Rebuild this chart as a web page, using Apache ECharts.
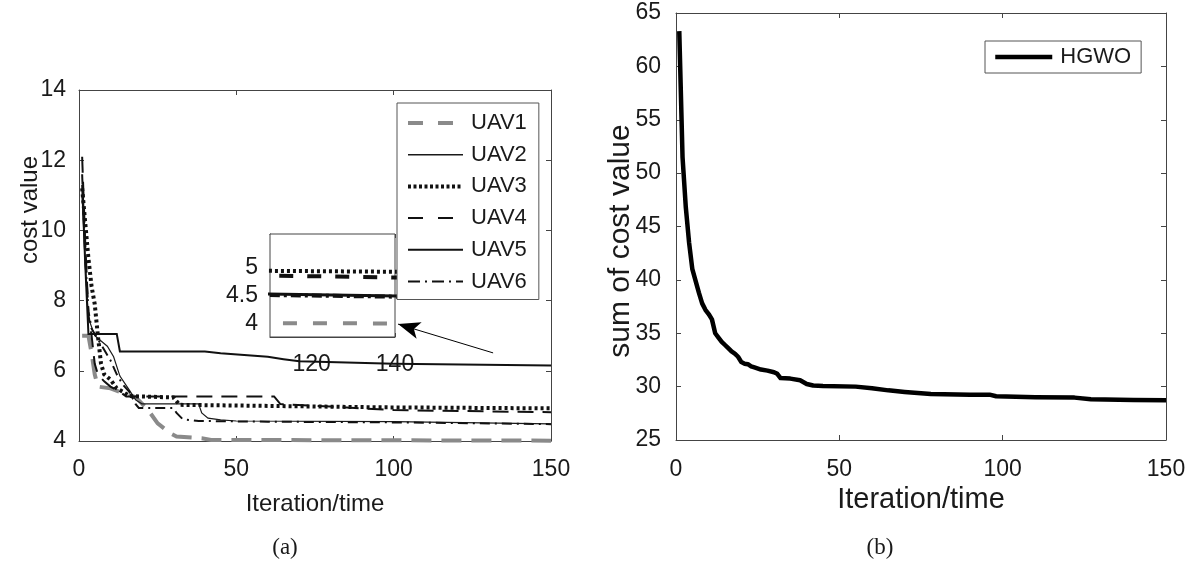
<!DOCTYPE html>
<html><head><meta charset="utf-8">
<script src="https://cdn.jsdelivr.net/npm/echarts@6/dist/echarts.min.js"></script>
<style>html,body{margin:0;padding:0;background:#fff}#c{width:1196px;height:568px}</style>
</head><body><div id="c"></div>
<script>
// ---------- data ----------
const uavNames = ['UAV1','UAV2','UAV3','UAV4','UAV5','UAV6'];
const uav1 = [[1,7.0],[3,7.0],[4,6.5],[5,5.9],[6,5.55],[10,5.5],[13,5.4],[18,5.25],[22,4.88],[25,4.5],[29,4.22],[31,4.13],[39,4.08],[42,4.03],[150,4.01]];
const uav2 = [[1,11.0],[2,9.0],[3,7.5],[5,7.0],[9,6.7],[11,6.4],[13,5.85],[16,5.45],[18,5.17],[20,5.06],[38,5.06],[39,4.8],[41,4.65],[45,4.6],[50,4.57],[100,4.55],[150,4.49]];
const uav3 = [[1,11.2],[2,10.2],[3,9.2],[4,8.4],[5,7.9],[6,7.0],[7,6.2],[8,5.9],[10,5.75],[12,5.5],[14,5.4],[16,5.28],[30,5.24],[32,5.03],[60,5.0],[95,4.96],[150,4.93]];
const uav4 = [[1,12.1],[2,9.6],[3,7.6],[4,7.0],[5,6.2],[6,5.9],[8,5.7],[10,5.55],[13,5.4],[15,5.27],[62,5.27],[64,5.05],[80,4.98],[100,4.88],[150,4.82]];
const uav5 = [[1,11.3],[2,9.0],[3,7.05],[12,7.05],[13,6.55],[40,6.55],[45,6.5],[60,6.4],[65,6.33],[70,6.27],[100,6.2],[150,6.15]];
const uav6 = [[1,11.6],[2,9.2],[3,7.7],[4,7.2],[6,6.9],[8,6.6],[10,6.3],[12,5.9],[14,5.6],[16,5.4],[18,5.05],[19,4.94],[30,4.94],[31,4.8],[33,4.62],[38,4.57],[60,4.55],[100,4.53],[150,4.48]];
const hgwo = [[1,63.3],[2,51.5],[3,46.8],[4,43.5],[5,41.0],[6,39.9],[7,38.8],[8,37.8],[9,37.2],[10,36.8],[11,36.3],[12,35.0],[13,34.6],[14,34.2],[15,33.9],[16,33.6],[17,33.3],[18,33.1],[19,32.8],[20,32.3],[21,32.15],[22,32.1],[23,31.9],[24,31.8],[26,31.6],[28,31.5],[30,31.35],[31,31.2],[32,30.8],[35,30.75],[38,30.6],[40,30.25],[42,30.1],[45,30.05],[55,30.0],[60,29.85],[65,29.65],[70,29.5],[78,29.3],[90,29.25],[96,29.25],[98,29.1],[110,29.0],[122,28.97],[127,28.82],[140,28.75],[150,28.72]];
const insetYTicks = [4, 4.5, 5];
const insetXLabels = [120, 140];
const arrowFrom = [131.6, 6.51];
const arrowTo = [101.4, 7.33];

// ---------- styles ----------
const F = '"Liberation Sans", Arial, sans-serif';
const AX = '#444';
const TXT = '#1a1a1a';
const styles = [
  {color:'#8a8a8a', width:4, type:[20,10]},
  {color:'#1a1a1a', width:1.2, type:'solid'},
  {color:'#111', width:4, type:[3,3]},
  {color:'#111', width:2, type:[16,9]},
  {color:'#111', width:2, type:'solid'},
  {color:'#111', width:2, type:[10,5,2,5]}
];
const legendStyles = [
  {color:'#8a8a8a', width:4, type:[15,15]},
  {color:'#1a1a1a', width:1.5, type:'solid'},
  {color:'#111', width:4, type:[3,2.5]},
  {color:'#111', width:2, type:[15,15]},
  {color:'#111', width:2, type:'solid'},
  {color:'#111', width:2, type:[12,5,2,5]}
];
const insetStyles = [
  {color:'#8a8a8a', width:4, type:[14,16]},
  {color:'#111', width:3, type:'solid'},
  {color:'#111', width:4, type:[3,3]},
  {color:'#111', width:4, type:[14,14]},
  {color:'#111', width:2, type:'solid'},
  {color:'#111', width:4, type:[10,4,3,4]}
];
const uavData = [uav1, uav2, uav3, uav4, uav5, uav6];

function xAx(grid, pos, min, max, interval, labels, extra) {
  return Object.assign({
    type:'value', gridIndex:grid, position:pos, min, max, interval,
    axisLine:{show:true, onZero:false, lineStyle:{color:AX, width:1}},
    axisTick:{show:true, inside:true, length:5, lineStyle:{color:AX}},
    axisLabel:{show:labels, color:TXT, fontFamily:F, fontSize:23, margin:17},
    splitLine:{show:false}
  }, extra || {});
}
function yAx(grid, pos, min, max, interval, labels, extra) {
  return Object.assign({
    type:'value', gridIndex:grid, position:pos, min, max, interval,
    axisLine:{show:true, onZero:false, lineStyle:{color:AX, width:1}},
    axisTick:{show:true, inside:true, length:5, lineStyle:{color:AX}},
    axisLabel:{show:labels, color:TXT, fontFamily:F, fontSize:23, margin:13},
    splitLine:{show:false}
  }, extra || {});
}

const xAxis = [
  xAx(0,'bottom',0,150,50,true,{name:'Iteration/time', nameLocation:'middle', nameGap:51, nameTextStyle:{fontFamily:F, fontSize:24, color:TXT}}),
  xAx(0,'top',0,150,50,false),
  xAx(1,'bottom',110,140,10,true,{axisLabel:{show:true, color:TXT, fontFamily:F, fontSize:23, margin:16, customValues:insetXLabels}, axisTick:{show:true, inside:true, length:4, lineStyle:{color:AX}}}),
  xAx(1,'top',110,140,10,false,{axisTick:{show:true, inside:true, length:4, lineStyle:{color:AX}}}),
  xAx(2,'bottom',0,150,50,true,{axisLabel:{show:true, color:TXT, fontFamily:F, fontSize:23, margin:18}, name:'Iteration/time', nameLocation:'middle', nameGap:45, nameTextStyle:{fontFamily:F, fontSize:29, color:TXT}}),
  xAx(2,'top',0,150,50,false)
];
const yAxis = [
  yAx(0,'left',4,14,2,true),
  yAx(0,'right',4,14,2,false),
  {type:'value', gridIndex:1, position:'left', min:3.77, max:5.61,
   axisLine:{show:true, lineStyle:{color:AX}},
   axisTick:{show:true, inside:true, length:4, customValues:insetYTicks, lineStyle:{color:AX}},
   axisLabel:{show:true, customValues:insetYTicks, color:TXT, fontFamily:F, fontSize:23, margin:12},
   splitLine:{show:false}},
  yAx(2,'left',25,65,5,true,{axisLabel:{show:true, color:TXT, fontFamily:F, fontSize:23, margin:15}}),
  yAx(2,'right',25,65,5,false)
];

const series = [];
uavData.forEach((d, i) => {
  const s = {
    name: uavNames[i], type:'line', xAxisIndex:0, yAxisIndex:0, data:d,
    symbol:'none', showSymbol:false, animation:false, z:3,
    lineStyle:Object.assign({cap:'butt', join:'miter'}, styles[i]),
    itemStyle:{color:styles[i].color},
    emphasis:{disabled:true}
  };
  if (i === 4) {
    s.markLine = {
      silent:true, animation:false, symbol:['none','arrow'], symbolSize:[13,22],
      label:{show:false}, lineStyle:{color:'#000', width:1, type:'solid'},
      emphasis:{disabled:true},
      data:[[{coord:arrowFrom, symbol:'none'}, {coord:arrowTo, symbol:'arrow'}]]
    };
  }
  series.push(s);
});
uavData.forEach((d, i) => {
  series.push({
    name: uavNames[i] + ' (zoom)', type:'line', xAxisIndex:2, yAxisIndex:2, data:d,
    symbol:'none', showSymbol:false, animation:false, clip:true, z:12,
    lineStyle:Object.assign({cap:'butt'}, insetStyles[i]),
    itemStyle:{color:insetStyles[i].color},
    emphasis:{disabled:true}
  });
});
series.push({
  name:'HGWO', type:'line', xAxisIndex:4, yAxisIndex:3, data:hgwo,
  symbol:'none', showSymbol:false, animation:false,
  lineStyle:{color:'#000', width:4.5, join:'round'}, itemStyle:{color:'#000'},
  emphasis:{disabled:true}
});

const legendItems = uavNames.map((n, i) => ({
  name:n,
  lineStyle:{color:legendStyles[i].color, width:legendStyles[i].width, type:legendStyles[i].type, cap:'butt'},
  itemStyle:{opacity:0, borderWidth:0}
}));

const option = {
  animation:false,
  backgroundColor:'#fff',
  grid:[
    {left:79, top:90, width:472, height:351, containLabel:false, outerBoundsMode:'none'},
    {left:270, top:234, width:125, height:103, containLabel:false, outerBoundsMode:'none', show:true, backgroundColor:'#fff', borderColor:AX, borderWidth:1, z:10},
    {left:676, top:13, width:490, height:427, containLabel:false, outerBoundsMode:'none'}
  ],
  xAxis, yAxis, series,
  legend:[
    {data:legendItems, orient:'vertical', left:397, top:103, itemWidth:55, itemHeight:14, itemGap:9.7,
     padding:[9,12,7,9], backgroundColor:'#fff', borderColor:'#555', borderWidth:1, selectedMode:false,
     textStyle:{fontFamily:F, fontSize:22, color:TXT, lineHeight:22, padding:[0,0,0,3]}, z:20},
    {data:[{name:'HGWO', lineStyle:{color:'#000', width:4.5, type:'solid', cap:'butt'}, itemStyle:{opacity:0, borderWidth:0}}],
     orient:'vertical', left:985, top:41, itemWidth:57, itemHeight:14,
     padding:[5,10,5,8], backgroundColor:'#fff', borderColor:'#555', borderWidth:1, selectedMode:false,
     textStyle:{fontFamily:F, fontSize:22, color:TXT, lineHeight:22, padding:[0,0,0,3]}, z:20}
  ],
  graphic:[
    {type:'text', x:30, y:210, rotation:Math.PI/2, silent:true,
     style:{text:'cost value', font:'24px "Liberation Sans", Arial, sans-serif', fill:TXT, textAlign:'center', textVerticalAlign:'middle'}},
    {type:'text', x:621, y:241, rotation:Math.PI/2, silent:true,
     style:{text:'sum of cost value', font:'30px "Liberation Sans", Arial, sans-serif', fill:TXT, textAlign:'center', textVerticalAlign:'middle'}},
    {type:'text', x:285, y:548, silent:true,
     style:{text:'(a)', font:'23px "Liberation Serif", "DejaVu Serif", serif', fill:TXT, textAlign:'center', textVerticalAlign:'middle'}},
    {type:'text', x:880, y:548, silent:true,
     style:{text:'(b)', font:'23px "Liberation Serif", "DejaVu Serif", serif', fill:TXT, textAlign:'center', textVerticalAlign:'middle'}}
  ]
};
const chart = echarts.init(document.getElementById('c'), null, {renderer:'canvas'});
chart.setOption(option);
</script>
</body></html>
